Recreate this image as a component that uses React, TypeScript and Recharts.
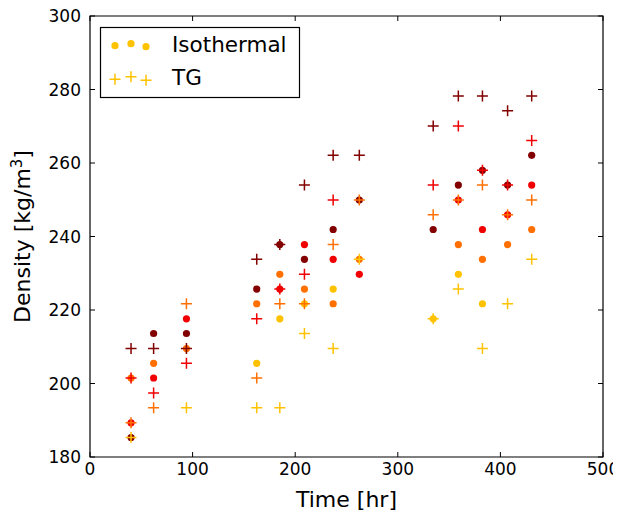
import React from 'react';
import { ScatterChart, Scatter, XAxis, YAxis, ReferenceArea, Legend } from 'recharts';

const times = [40, 62, 94, 162.5, 185, 209, 237, 262.5, 334.5, 359, 382.5, 407, 430.5];

const darkRedIso = [185.3, 213.6, 213.6, 225.7, 237.8, 233.8, 241.9, 249.9, 241.9, 254.0, 258.0, 254.0, 262.1];
const darkRedTG = [209.5, 209.5, 209.5, 233.8, 237.8, 254.0, 262.1, 262.1, 270.1, 278.2, 278.2, 274.2, 278.2];
const redIso = [189.3, 201.5, 217.6, null, 225.7, 237.8, 233.8, 229.7, null, 249.9, 241.9, 245.9, 254.0];
const redTG = [201.5, 197.4, 205.5, 217.6, 225.7, 229.7, 249.9, null, 254.0, 270.1, 258.0, 254.0, 266.1];
const orangeIso = [201.5, 205.5, 209.5, 221.7, 229.7, 225.7, 221.7, 233.8, null, 237.8, 233.8, 237.8, 241.9];
const orangeTG = [189.3, 193.4, 221.7, 201.5, 221.7, 221.7, 237.8, 249.9, 245.9, 249.9, 254.0, 245.9, 249.9];
const yellowIso = [null, null, null, 205.5, 217.6, 221.7, 225.7, null, 217.6, 229.7, 221.7, null, null];
const yellowTG = [185.3, null, 193.4, 193.4, 193.4, 213.6, 209.5, 233.8, 217.6, 225.7, 209.5, 221.7, 233.8];

const xTicks = [0, 100, 200, 300, 400, 500];
const yTicks = [180, 200, 220, 240, 260, 280, 300];

const YELLOW = '#ffc200';
const ORANGE = '#ff7000';
const RED = '#f00000';
const DARKRED = '#820000';

const W = 621;
const H = 518;
const PLOT_LEFT = 90;
const PLOT_RIGHT = 603;
const PLOT_TOP = 16;
const PLOT_BOTTOM = 457;
const TICK_LEN = 5;
const FONT = 'DejaVu Sans, sans-serif';

const toData = (vals: (number | null)[]) =>
  vals
    .map((v, i) => (v == null ? null : { t: times[i], d: v }))
    .filter((p) => p !== null) as { t: number; d: number }[];

const dotShape = (color: string) => (p: any) =>
  <circle cx={p.cx} cy={p.cy} r={3.6} fill={color} />;

const plusShape = (color: string) => (p: any) => (
  <path
    d={`M${p.cx - 5.5},${p.cy}H${p.cx + 5.5}M${p.cx},${p.cy - 5.5}V${p.cy + 5.5}`}
    stroke={color}
    strokeWidth={1.5}
    fill="none"
  />
);

const XTick = (props: any) => {
  const { x, payload } = props;
  return (
    <g>
      <line x1={x} x2={x} y1={PLOT_BOTTOM} y2={PLOT_BOTTOM - TICK_LEN} stroke="#000" />
      <line x1={x} x2={x} y1={PLOT_TOP} y2={PLOT_TOP + TICK_LEN} stroke="#000" />
      <text x={x} y={PLOT_BOTTOM + 18} textAnchor="middle" fontFamily={FONT} fontSize={17} fill="#000">
        {payload.value}
      </text>
    </g>
  );
};

const YTick = (props: any) => {
  const { y, payload } = props;
  return (
    <g>
      <line x1={PLOT_LEFT} x2={PLOT_LEFT + TICK_LEN} y1={y} y2={y} stroke="#000" />
      <line x1={PLOT_RIGHT - TICK_LEN} x2={PLOT_RIGHT} y1={y} y2={y} stroke="#000" />
      <text x={PLOT_LEFT - 9} y={y + 6} textAnchor="end" fontFamily={FONT} fontSize={17} fill="#000">
        {payload.value}
      </text>
    </g>
  );
};

const XLabel = () => (
  <text x={(PLOT_LEFT + PLOT_RIGHT) / 2} y={507} textAnchor="middle" fontFamily={FONT} fontSize={22} fill="#000">
    Time [hr]
  </text>
);

const YLabel = () => {
  const cx = 30;
  const cy = (PLOT_TOP + PLOT_BOTTOM) / 2;
  return (
    <text
      x={cx}
      y={cy}
      transform={`rotate(-90, ${cx}, ${cy})`}
      textAnchor="middle"
      fontFamily={FONT}
      fontSize={22}
      fill="#000"
    >
      Density [kg/m
      <tspan dy={-8} fontSize={15}>3</tspan>
      <tspan dy={8}>]</tspan>
    </text>
  );
};

const LegendBox = () => (
  <svg width={201} height={72} style={{ display: 'block' }}>
    <rect x={0.5} y={0.5} width={199} height={70} fill="#fff" stroke="#000" strokeWidth={1.2} />
    <circle cx={15} cy={18.7} r={3.6} fill={YELLOW} />
    <circle cx={31} cy={16.7} r={3.6} fill={YELLOW} />
    <circle cx={46} cy={19.7} r={3.6} fill={YELLOW} />
    <text x={72} y={25} fontFamily={FONT} fontSize={21.5} fill="#000">Isothermal</text>
    {[
      [15, 52.3],
      [31, 49.7],
      [46, 53.3],
    ].map(([cx, cy], i) => (
      <path
        key={i}
        d={`M${cx - 5.5},${cy}H${cx + 5.5}M${cx},${cy - 5.5}V${cy + 5.5}`}
        stroke={YELLOW}
        strokeWidth={1.5}
      />
    ))}
    <text x={72} y={58} fontFamily={FONT} fontSize={21.5} fill="#000">TG</text>
  </svg>
);

const series = [
  { name: 'yellowIso', data: yellowIso, color: YELLOW, kind: 'dot' },
  { name: 'orangeIso', data: orangeIso, color: ORANGE, kind: 'dot' },
  { name: 'redIso', data: redIso, color: RED, kind: 'dot' },
  { name: 'darkRedIso', data: darkRedIso, color: DARKRED, kind: 'dot' },
  { name: 'darkRedTG', data: darkRedTG, color: DARKRED, kind: 'plus' },
  { name: 'redTG', data: redTG, color: RED, kind: 'plus' },
  { name: 'orangeTG', data: orangeTG, color: ORANGE, kind: 'plus' },
  { name: 'yellowTG', data: yellowTG, color: YELLOW, kind: 'plus' },
];

export default function App() {
  return (
    <div style={{ width: W, height: H, margin: -8 }}>
      <style>{'html,body{overflow:hidden} svg{overflow:visible}'}</style>
      <ScatterChart
        width={W}
        height={H}
        margin={{ top: PLOT_TOP, right: W - PLOT_RIGHT, bottom: 0, left: 0 }}
      >
        <XAxis
          type="number"
          dataKey="t"
          domain={[0, 500]}
          ticks={xTicks}
          interval={0}
          height={H - PLOT_BOTTOM}
          axisLine={false}
          tickLine={false}
          tickSize={0}
          tick={<XTick />}
          label={<XLabel />}
          allowDataOverflow
        />
        <YAxis
          type="number"
          dataKey="d"
          domain={[180, 300]}
          ticks={yTicks}
          interval={0}
          width={PLOT_LEFT}
          axisLine={false}
          tickLine={false}
          tickSize={0}
          tick={<YTick />}
          label={<YLabel />}
          allowDataOverflow
        />
        <ReferenceArea x1={0} x2={500} y1={180} y2={300} fill="none" stroke="#000" strokeWidth={1.2} fillOpacity={0} ifOverflow="visible" />
        {series.map((s) => (
          <Scatter
            key={s.name}
            name={s.name}
            data={toData(s.data)}
            fill={s.color}
            shape={s.kind === 'dot' ? dotShape(s.color) : plusShape(s.color)}
            isAnimationActive={false}
          />
        ))}
        <Legend
          layout="vertical"
          align="center"
          verticalAlign="middle"
          wrapperStyle={{ position: 'absolute', left: 100, top: 27, width: 201, height: 72 }}
          content={() => <LegendBox />}
        />
      </ScatterChart>
    </div>
  );
}
